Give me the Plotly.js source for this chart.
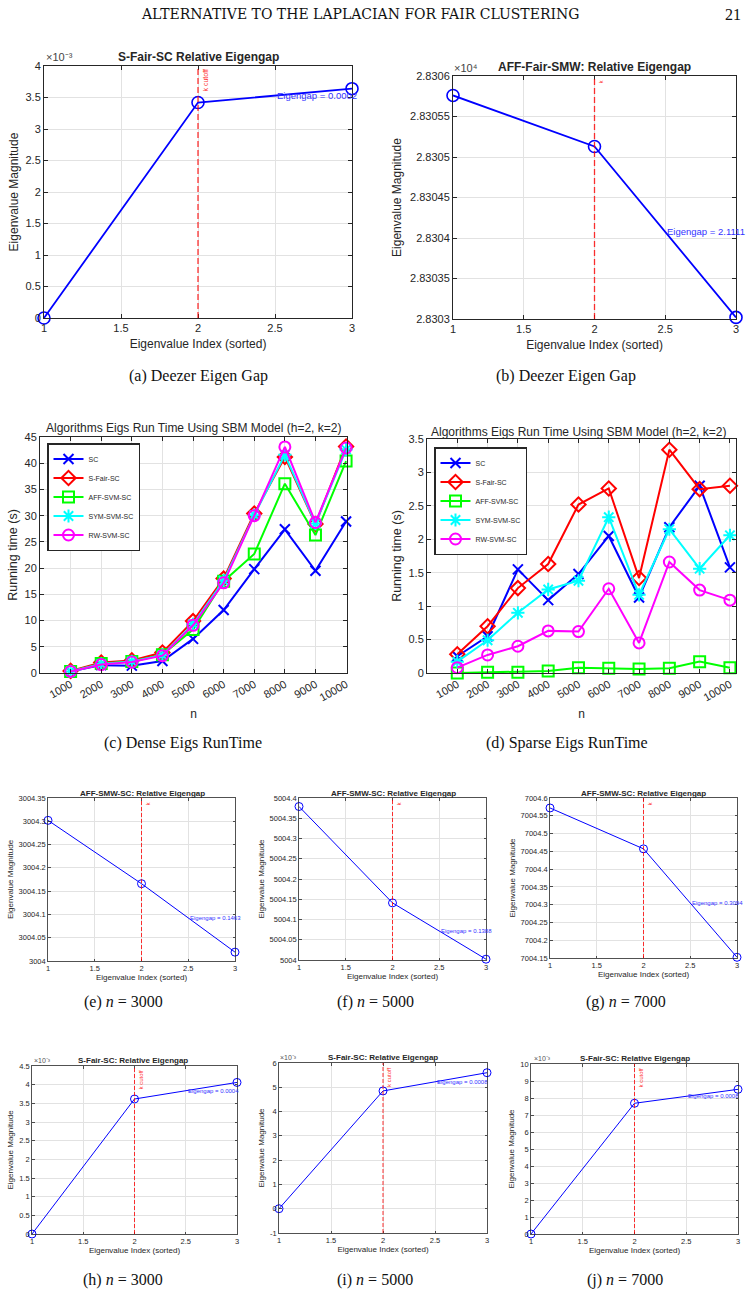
<!DOCTYPE html>
<html><head><meta charset="utf-8">
<script src="https://cdn.plot.ly/plotly-3.0.1.min.js"></script>
<style>html,body{margin:0;padding:0;background:#fff;} #chart{width:750px;height:1296px;}</style>
</head><body><div id="chart"></div>
<script>
// ================= DATA =================
const eigIndex = [1, 2, 3];
const eigXTicks = [1, 1.5, 2, 2.5, 3];
const kCutoff = 2;

// (a) Deezer S-Fair-SC, (b) Deezer AFF-Fair-SMW
const deezerSFairVals = [0, 0.00342, 0.00364];
const deezerAffVals = [28305.76, 28305.13, 28303.02];
// (e)-(g) AFF-SMW-SC
const smw3000Vals = [3004.302, 3004.166, 3004.019];
const smw5000Vals = [5004.379, 5004.141, 5004.002];
const smw7000Vals = [7004.572, 7004.457, 7004.152];
// (h)-(j) S-Fair-SC
const sfair3000Vals = [0, 0.003616, 0.00406];
const sfair5000Vals = [0, 0.00485, 0.0056];
const sfair7000Vals = [0, 0.00769, 0.00851];

// Eigengap labels
const gapA = '0.0002', gapB = '2.1111', gapE = '0.1463', gapF = '0.1388', gapG = '0.3094';
const gapH = '0.0004', gapI = '0.0008', gapJ = '0.0008';

// y tick labels (mantissa) and the axis multiplier
const ticksA = [0, 0.5, 1, 1.5, 2, 2.5, 3, 3.5, 4];            // x10^-3
const ticksB = [2.8303, 2.83035, 2.8304, 2.83045, 2.8305, 2.83055, 2.8306]; // x10^4
const ticksE = [3004, 3004.05, 3004.1, 3004.15, 3004.2, 3004.25, 3004.3, 3004.35];
const ticksF = [5004, 5004.05, 5004.1, 5004.15, 5004.2, 5004.25, 5004.3, 5004.35, 5004.4];
const ticksG = [7004.15, 7004.2, 7004.25, 7004.3, 7004.35, 7004.4, 7004.45, 7004.5, 7004.55, 7004.6];
const ticksH = [0, 0.5, 1, 1.5, 2, 2.5, 3, 3.5, 4, 4.5];       // x10^-3
const ticksI = [-1, 0, 1, 2, 3, 4, 5, 6];                       // x10^-3
const ticksJ = [0, 1, 2, 3, 4, 5, 6, 7, 8, 9, 10];              // x10^-3

// (c),(d) run time
const nValues = [1000, 2000, 3000, 4000, 5000, 6000, 7000, 8000, 9000, 10000];
const seriesNames = ['SC', 'S-Fair-SC', 'AFF-SVM-SC', 'SYM-SVM-SC', 'RW-SVM-SC'];
const denseSC    = [0.3, 1.5, 1.4, 2.3, 6.5, 12.0, 19.8, 27.4, 19.5, 28.9];
const denseSFair = [0.4, 2.0, 2.4, 3.9, 9.9, 18.0, 30.4, 41.2, 28.4, 43.2];
const denseAFF   = [0.3, 1.8, 2.2, 3.5, 8.3, 17.5, 22.7, 36.1, 26.3, 40.4];
const denseSYM   = [0.3, 1.7, 2.2, 3.4, 9.3, 17.6, 30.1, 41.6, 28.5, 42.6];
const denseRW    = [0.3, 1.6, 2.1, 3.3, 9.1, 17.2, 30.0, 43.1, 28.7, 42.9];
const sparseSC    = [0.25, 0.55, 1.55, 1.09, 1.48, 2.05, 1.13, 2.18, 2.80, 1.58];
const sparseSFair = [0.28, 0.70, 1.27, 1.63, 2.52, 2.76, 1.42, 3.34, 2.75, 2.80];
const sparseAFF   = [0.00, 0.01, 0.01, 0.03, 0.08, 0.07, 0.06, 0.07, 0.17, 0.08];
const sparseSYM   = [0.17, 0.49, 0.90, 1.25, 1.38, 2.33, 1.17, 2.15, 1.56, 2.06];
const sparseRW    = [0.08, 0.27, 0.40, 0.63, 0.62, 1.26, 0.45, 1.66, 1.24, 1.09];
const denseYTicks = [0, 5, 10, 15, 20, 25, 30, 35, 40, 45];
const sparseYTicks = [0, 0.5, 1, 1.5, 2, 2.5, 3, 3.5];

// ================= STYLE / LAYOUT =================
const W = 750, H = 1296;
const SANS = 'Liberation Sans, Arial, Helvetica, sans-serif';
const SERIF = 'Liberation Serif, DejaVu Serif, Times New Roman, serif';
const AX = '#262626', GRID = '#e2e2e2';
const px = x => x / W, py = y => 1 - y / H;

const traces = [], shapes = [], annotations = [];
const layout = {
  width: W, height: H, autosize: false,
  margin: {l: 0, r: 0, t: 0, b: 0, pad: 0},
  paper_bgcolor: '#fff', plot_bgcolor: '#fff',
  showlegend: true, hovermode: false,
  font: {family: SANS, color: AX}
};

function ann(text, x, y, size, o) {
  annotations.push(Object.assign({
    text: text, x: px(x), y: py(y), xref: 'paper', yref: 'paper',
    showarrow: false, xanchor: 'center', yanchor: 'middle',
    font: {family: SANS, size: size, color: AX}
  }, o || {}));
}

function axisBase(fs, tl, lw) {
  return {
    showline: true, mirror: 'ticks', linecolor: AX, linewidth: lw,
    ticks: 'inside', ticklen: tl, tickcolor: AX, tickwidth: lw,
    showgrid: true, gridcolor: GRID, gridwidth: 1, zeroline: false, automargin: false,
    tickfont: {family: SANS, size: fs, color: AX}, fixedrange: true
  };
}

function eigPanel(n, vals, ticks, scale, gap, box, big, cutoffText, yStand) {
  const xa = n === 1 ? 'x' : 'x' + n, ya = n === 1 ? 'y' : 'y' + n;
  const xk = n === 1 ? 'xaxis' : 'xaxis' + n, yk = n === 1 ? 'yaxis' : 'yaxis' + n;
  const fs = big ? 11 : 7.5, tfs = big ? 12 : 8;
  traces.push({
    type: 'scatter', mode: 'lines+markers', x: eigIndex, y: vals,
    xaxis: xa, yaxis: ya, showlegend: false, cliponaxis: false, hoverinfo: 'skip',
    line: {color: '#0000ff', width: big ? 1.8 : 1},
    marker: {symbol: 'circle-open', size: big ? 12 : 8, color: '#0000ff', line: {width: big ? 1.6 : 1, color: '#0000ff'}}
  });
  const xax = axisBase(fs, big ? 4 : 2.5, big ? 1 : 0.8);
  Object.assign(xax, {domain: [px(box[0]), px(box[1])], anchor: ya, range: [1, 3],
    tickvals: eigXTicks, ticktext: eigXTicks.map(String),
    title: {text: 'Eigenvalue Index (sorted)', font: {family: SANS, size: tfs, color: AX}, standoff: big ? 6 : 2}});
  const yax = axisBase(fs, big ? 4 : 2.5, big ? 1 : 0.8);
  Object.assign(yax, {domain: [py(box[3]), py(box[2])], anchor: xa,
    range: [ticks[0] * scale, ticks[ticks.length - 1] * scale],
    tickvals: ticks.map(t => t * scale), ticktext: ticks.map(String),
    title: {text: 'Eigenvalue Magnitude', font: {family: SANS, size: tfs, color: AX}, standoff: yStand}});
  layout[xk] = xax; layout[yk] = yax;
  shapes.push({type: 'line', xref: xa, yref: ya + ' domain', x0: kCutoff, x1: kCutoff, y0: 0, y1: 1,
    line: {color: 'rgba(255,0,0,0.8)', width: big ? 1.3 : 1, dash: big ? '6px,3px' : '4px,2px'}});
  annotations.push({
    text: 'Eigengap = ' + gap, xref: xa, yref: ya,
    x: (eigIndex[1] + eigIndex[2]) / 2, y: (vals[1] + vals[2]) / 2,
    xanchor: 'left', yanchor: 'middle', showarrow: false,
    font: {family: SANS, size: big ? 9.5 : 6, color: '#3333ff'}
  });
  annotations.push({
    text: cutoffText, xref: xa, yref: ya + ' domain', x: kCutoff, y: 1,
    xanchor: 'left', yanchor: 'top', textangle: -90, showarrow: false, xshift: 1, yshift: -2,
    font: {family: SANS, size: cutoffText === 'k cutoff' ? (big ? 7 : 6) : 6, color: '#ff3333'}
  });
}

// Eigen-gap panels (boxes: left, right, top, bottom in px)
eigPanel(1, deezerSFairVals, ticksA, 1e-3, gapA, [44, 352, 66, 318], true, 'k cutoff', 4);
eigPanel(2, deezerAffVals, ticksB, 1e4, gapB, [453, 736, 76, 319], true, 'k', 5);
eigPanel(5, smw3000Vals, ticksE, 1, gapE, [48, 235, 798, 961], false, 'k', 3);
eigPanel(6, smw5000Vals, ticksF, 1, gapF, [299, 486, 798, 960], false, 'k', 3);
eigPanel(7, smw7000Vals, ticksG, 1, gapG, [550, 737, 798, 958], false, 'k', 3);
eigPanel(8, sfair3000Vals, ticksH, 1e-3, gapH, [32, 237, 1066, 1234], false, 'k cutoff', 4);
eigPanel(9, sfair5000Vals, ticksI, 1e-3, gapI, [279, 487, 1063, 1233], false, 'k cutoff', 4);
eigPanel(10, sfair7000Vals, ticksJ, 1e-3, gapJ, [531, 738, 1064, 1234], false, 'k cutoff', 4);

// Run-time panels
const seriesColors = ['#0000ff', '#ff0000', '#00ff00', '#00ffff', '#ff00ff'];
const seriesSymbols = ['x-thin-open', 'diamond-open', 'square-open', 'asterisk-open', 'circle-open'];
function runPanel(n, series, yTicks, box, xmax, legendKey, legendPos) {
  const xa = 'x' + n, ya = 'y' + n;
  series.forEach((vals, i) => {
    traces.push({
      type: 'scatter', mode: 'lines+markers', name: seriesNames[i], x: nValues, y: vals,
      xaxis: xa, yaxis: ya, legend: legendKey, cliponaxis: false, hoverinfo: 'skip',
      line: {color: seriesColors[i], width: 2},
      marker: {symbol: seriesSymbols[i], size: i === 0 ? 10 : 11, color: seriesColors[i],
               line: {width: 2, color: seriesColors[i]}}
    });
  });
  const xax = axisBase(11, 4, 1);
  Object.assign(xax, {domain: [px(box[0]), px(box[1])], anchor: ya, range: [0, xmax],
    tickvals: nValues, ticktext: nValues.map(String), tickangle: -30,
    title: {text: 'n', font: {family: SANS, size: 12, color: AX}, standoff: 7}});
  const yax = axisBase(11, 4, 1);
  Object.assign(yax, {domain: [py(box[3]), py(box[2])], anchor: xa,
    range: [yTicks[0], yTicks[yTicks.length - 1]], tickvals: yTicks, ticktext: yTicks.map(String),
    title: {text: 'Running time (s)', font: {family: SANS, size: 12.5, color: AX}, standoff: 4}});
  layout['xaxis' + n] = xax; layout['yaxis' + n] = yax;
  layout[legendKey] = {
    x: px(legendPos[0]), y: py(legendPos[1]), xanchor: 'left', yanchor: 'top',
    xref: 'paper', yref: 'paper',
    bgcolor: '#ffffff', bordercolor: AX, borderwidth: 1.5, itemwidth: 30, tracegroupgap: 0,
    font: {family: SANS, size: 7, color: AX}
  };
}
runPanel(3, [denseSC, denseSFair, denseAFF, denseSYM, denseRW], denseYTicks, [40, 347, 437, 673], 10030, 'legend', [47, 443]);
runPanel(4, [sparseSC, sparseSFair, sparseAFF, sparseSYM, sparseRW], sparseYTicks, [427, 736, 439, 673], 10200, 'legend2', [434, 447]);

// ================= TEXT =================
// page header
ann('ALTERNATIVE TO THE LAPLACIAN FOR FAIR CLUSTERING', 360, 14, 14, {font: {family: 'DejaVu Serif, Liberation Serif, serif', size: 14, color: '#111'}});
ann('21', 733, 14, 16, {font: {family: SERIF, size: 16, color: '#111'}});

// (a)
ann('<b>S-Fair-SC Relative Eigengap</b>', 198, 57, 12);
ann('×10⁻³', 44, 57, 11, {xanchor: 'left', font: {family: SANS, size: 11, color: '#444'}});
ann('(a) Deezer Eigen Gap', 198, 376, 16, {font: {family: SERIF, size: 16, color: '#111'}});
// (b)
ann('<b>AFF-Fair-SMW: Relative Eigengap</b>', 594, 67, 12);
ann('×10⁴', 452, 68, 11, {xanchor: 'left', font: {family: SANS, size: 11, color: '#444'}});
ann('(b) Deezer Eigen Gap', 566, 376, 16, {font: {family: SERIF, size: 16, color: '#111'}});
// (c)
ann('Algorithms Eigs Run Time Using SBM Model (h=2, k=2)', 193, 428, 12);
ann('(c) Dense Eigs RunTime', 183, 743, 16, {font: {family: SERIF, size: 16, color: '#111'}});
// (d)
ann('Algorithms Eigs Run Time Using SBM Model (h=2, k=2)', 578, 432, 12);
ann('(d) Sparse Eigs RunTime', 567, 743, 16, {font: {family: SERIF, size: 16, color: '#111'}});
// (e)-(g)
[[142, 123, '(e) <i>n</i> = 3000'], [393, 375, '(f) <i>n</i> = 5000'], [643, 626, '(g) <i>n</i> = 7000']]
  .forEach(([cx, capx, cap]) => {
    ann('<b>AFF-SMW-SC: Relative Eigengap</b>', cx, 793, 8);
    ann(cap, capx, 1002, 16, {font: {family: SERIF, size: 16, color: '#111'}});
  });
// (h)-(j)
[[133, 123, 32, 1060, '(h) <i>n</i> = 3000'], [383, 375, 278, 1057, '(i) <i>n</i> = 5000'], [635, 625, 532, 1058, '(j) <i>n</i> = 7000']]
  .forEach(([cx, capx, ex, ty, cap]) => {
    ann('<b>S-Fair-SC: Relative Eigengap</b>', cx, ty, 8);
    ann('×10⁻³', ex, ty, 7, {xanchor: 'left', font: {family: SANS, size: 7, color: '#555'}});
    ann(cap, capx, 1280, 16, {font: {family: SERIF, size: 16, color: '#111'}});
  });

layout.shapes = shapes;
layout.annotations = annotations;
Plotly.newPlot('chart', traces, layout, {staticPlot: true, displayModeBar: false});
</script></body></html>
